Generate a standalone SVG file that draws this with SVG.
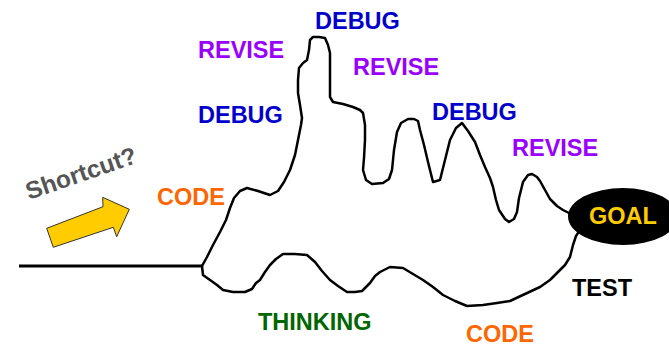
<svg xmlns="http://www.w3.org/2000/svg" width="669" height="345" viewBox="0 0 669 345">
  <style>
    .lbl { font-family: "Liberation Sans", Arial, sans-serif; font-weight: bold; font-size: 23.5px; }
    .debug { fill: #0000cc; }
    .revise { fill: #9900ff; }
    .code { fill: #ff6600; }
    .think { fill: #006600; }
    .test { fill: #000000; }
    .route { fill: none; stroke: #000; stroke-width: 2.5; stroke-linejoin: round; stroke-linecap: round; }
  </style>
  <rect width="669" height="345" fill="#ffffff"/>

  <!-- paths from the start line to the goal -->
  <g id="connectors">
    <line x1="19" y1="266" x2="202" y2="266" stroke="#000" stroke-width="3"/>
    <!-- upper route: code / debug / revise peaks -->
    <polyline class="route" points="202,266 207,257 213,245 220,232 226,220 230,208 234,198 240,191 247,188 258,191 270,195 278,191 284,182 290,170 295,155 298,140 301,125 302,118 300,105 298,93 298,80 299,68 303,63 307,60 309,50 310,40 313,37 319,37 325,38 328,45 330,53 330,75 330,97 333,102 343,104 353,107 360,110 363,113 365,125 365,140 364,158 363,170 366,180 372,184 383,183 389,179 392,170 394,150 397,132 401,123 408,119 414,119 418,121 420,130 424,145 428,162 433,182 440,180 445,160 450,140 456,128 462,123 468,131 475,142 480,155 485,167 490,178 493,187 496,200 499,210 505,219 509,222 514,219 517,212 519,198 523,182 528,175 532,174 537,177 540,181 545,190 550,199 557,206 563,210 569,213"/>
    <!-- lower route: thinking / code / test -->
    <polyline class="route" points="202,266 203,275 210,280 217,285 223,290 233,292 245,292 252,289 256,283 260,280 265,272 270,265 276,259 283,254 295,254 307,255 315,262 322,271 330,280 338,286 347,292 355,292 362,291 366,287 370,283 375,276 380,272 390,267 403,268 413,274 423,280 433,287 443,295 455,301 467,306 483,305 497,303 510,301 525,294 540,287 550,280 557,273 565,265 570,257 573,245 576,236 578,233"/>
  </g>

  <g id="goal">
    <ellipse cx="623" cy="216.5" rx="55" ry="28.5" fill="#000"/>
    <text class="lbl" x="623" y="224" text-anchor="middle" fill="#ffcc00">GOAL</text>
  </g>

  <g id="shortcut">
    <polygon points="46.7,228.3 103,206.7 102.7,197.3 129.3,209.3 116.7,236.7 113.3,227.3 53.3,247.3" fill="#ffcc00" stroke="#333" stroke-width="1"/>
    <text class="lbl" x="29" y="200" fill="#555555" transform="rotate(-19 29 200)" style="font-size:24.5px">Shortcut?</text>
  </g>

  <g id="debug-top"><text class="lbl debug" x="315" y="29">DEBUG</text></g>
  <g id="revise-left"><text class="lbl revise" x="198" y="58">REVISE</text></g>
  <g id="debug-left"><text class="lbl debug" x="198" y="123">DEBUG</text></g>
  <g id="revise-mid"><text class="lbl revise" x="353" y="75">REVISE</text></g>
  <g id="debug-right"><text class="lbl debug" x="432" y="120">DEBUG</text></g>
  <g id="revise-right"><text class="lbl revise" x="512" y="156">REVISE</text></g>
  <g id="code-top"><text class="lbl code" x="157" y="205">CODE</text></g>
  <g id="test"><text class="lbl test" x="572" y="296">TEST</text></g>
  <g id="thinking"><text class="lbl think" x="258" y="330">THINKING</text></g>
  <g id="code-bottom"><text class="lbl code" x="466" y="342">CODE</text></g>
</svg>
